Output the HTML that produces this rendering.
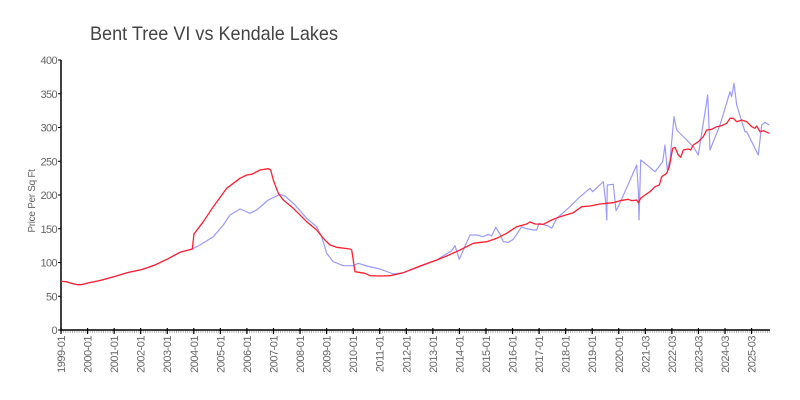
<!DOCTYPE html>
<html><head><meta charset="utf-8"><style>
html,body{margin:0;padding:0;background:#fff;}
svg{display:block;}
text{font-family:"Liberation Sans",sans-serif;}
</style></head><body>
<svg width="800" height="400" viewBox="0 0 800 400" xmlns="http://www.w3.org/2000/svg">
<defs>
<pattern id="mt" x="61" y="0" width="2.2133" height="10" patternUnits="userSpaceOnUse">
<rect x="0" y="0" width="0.8" height="10" fill="#aaa"/>
</pattern>
</defs>
<text x="90" y="40" font-size="19.5" fill="#444" textLength="248" lengthAdjust="spacingAndGlyphs">Bent Tree VI vs Kendale Lakes</text>
<rect x="61" y="330.5" width="709" height="2.5" fill="url(#mt)"/>
<line x1="61" y1="60" x2="61" y2="331" stroke="#000" stroke-width="1.5"/>
<line x1="60.5" y1="330" x2="770" y2="330" stroke="#000" stroke-width="1.5"/>
<g stroke="#000" stroke-width="1">
<line x1="58" y1="60" x2="61" y2="60"/><line x1="58" y1="93.75" x2="61" y2="93.75"/><line x1="58" y1="127.5" x2="61" y2="127.5"/><line x1="58" y1="161.25" x2="61" y2="161.25"/><line x1="58" y1="195" x2="61" y2="195"/><line x1="58" y1="228.75" x2="61" y2="228.75"/><line x1="58" y1="262.5" x2="61" y2="262.5"/><line x1="58" y1="296.25" x2="61" y2="296.25"/><line x1="58" y1="330" x2="61" y2="330"/>
</g>
<g font-size="11" fill="#666" text-anchor="end" letter-spacing="-0.6">
<text x="57" y="64">400</text><text x="57" y="97.75">350</text><text x="57" y="131.5">300</text><text x="57" y="165.25">250</text><text x="57" y="199">200</text><text x="57" y="232.75">150</text><text x="57" y="266.5">100</text><text x="57" y="300.25">50</text><text x="57" y="334">0</text>
</g>
<text transform="translate(35,201) rotate(-90)" font-size="10" fill="#666" text-anchor="middle" letter-spacing="-0.3">Price Per Sq Ft</text>
<polyline fill="none" stroke="#9a9aff" stroke-width="1.2" stroke-linejoin="round" points="61,281.4 66,281.6 72,283.5 78,284.8 82,284.5 88,283 100,280.5 114.7,276.5 128,272.5 135,271 141,269.8 148,267.5 155,265 167,259.3 180,252.3 192.3,249 200,245 213.3,236.7 223.3,225 230,215 240,209 245,211 250,213.3 256.7,210 268.3,200 280,194.3 285,196 295,205 306.7,218.3 316.7,226.7 321.7,236.7 326.7,253.3 333.3,261.7 343.3,265.7 353.3,265.7 358.3,263.3 366.7,266 380,269 393.3,274 403.3,272.7 420,266.7 436.7,260 448.3,252.7 451.7,250.7 455,245.7 459.3,259.3 463.3,250 470,235 476.7,235 483.3,236.7 488.3,234.3 491.7,236 495.7,227.3 500,234 503.3,241.7 508.3,242.3 513.3,239.3 521.7,226.7 525,228.3 533.3,230 536.7,230 539,223.3 548.3,226 551.7,228.3 556.7,218.3 570,206.7 578.3,198.3 590,188.3 592.7,191.7 603.3,181.7 606,205 606.7,220 607.3,185 613.3,184.3 616,210.7 618.3,206.7 636.7,165 638.3,190 639,220 640.7,160 645,163.3 655,171.7 662.7,161.7 665,145 667.3,170 670,160 674,116.7 676.7,130 686.7,140 693.3,146.7 698.3,155 707.7,95 710,150 720,125 730,91.7 731.7,96.7 734,83.3 736.7,105 745,131.7 746.7,131.7 758.3,155 761.7,125 765,122.3 769.3,125"/>
<polyline fill="none" stroke="#ff1f2f" stroke-width="1.3" stroke-linejoin="round" points="61,281.4 66,281.6 72,283.5 78,284.8 82,284.5 88,283 100,280.5 114.7,276.5 128,272.5 135,271 141,269.8 148,267.5 155,265 167,259.3 180,252.3 192.3,249 194,234 203.3,221.7 213.3,206.7 226.7,188.3 240,178.3 246.7,175 251.7,174.3 260,170 268.3,168.7 270.7,170 273.3,180 278.3,193.3 283.3,200 293.3,208.3 306.7,221.7 316.7,230 323.3,238.3 330,245 336.7,247.3 350,249 351.7,250 355,271.7 365,273.3 370,275.7 380,276 390,275.7 403.3,272.7 420,266 436.7,260 446.7,256 460,250 473.3,243.3 486.7,241.7 496.7,238.3 506.7,233.3 516.7,226.7 526.7,224 530,222 535,224 543.3,224.3 551.7,220 560,216.7 573.3,212.7 581.7,206.7 590,206 600,204 606.7,203.3 613.3,202.7 620,200.7 628.3,199.3 631.7,200.7 636.7,200 638.3,202.7 640.7,198.3 645,195 650,191.7 655,186.7 659.3,185 661.7,176.7 666.7,173.3 669.3,166.7 672.7,148.3 675,147.3 678.3,155 680.7,157.3 683.3,150 688.3,149 690.7,150 693.3,145 698.3,141.7 703.3,136.7 706.7,130 711.7,129.3 716.7,126.7 721.7,125.7 726.7,123.3 730,118.3 733.3,118.3 736.7,121.7 741.7,120 746.7,121.7 751.7,126.7 755,128.3 756.7,126 760,131.7 763.3,130.7 769.3,133.3"/>
<g stroke="#000" stroke-width="1.2">
<line x1="61" y1="328" x2="61" y2="334"/><line x1="87.56" y1="328" x2="87.56" y2="334"/><line x1="114.12" y1="328" x2="114.12" y2="334"/><line x1="140.68" y1="328" x2="140.68" y2="334"/><line x1="167.24" y1="328" x2="167.24" y2="334"/><line x1="193.8" y1="328" x2="193.8" y2="334"/><line x1="220.36" y1="328" x2="220.36" y2="334"/><line x1="246.92" y1="328" x2="246.92" y2="334"/><line x1="273.48" y1="328" x2="273.48" y2="334"/><line x1="300.04" y1="328" x2="300.04" y2="334"/><line x1="326.6" y1="328" x2="326.6" y2="334"/><line x1="353.16" y1="328" x2="353.16" y2="334"/><line x1="379.72" y1="328" x2="379.72" y2="334"/><line x1="406.28" y1="328" x2="406.28" y2="334"/><line x1="432.84" y1="328" x2="432.84" y2="334"/><line x1="459.4" y1="328" x2="459.4" y2="334"/><line x1="485.96" y1="328" x2="485.96" y2="334"/><line x1="512.52" y1="328" x2="512.52" y2="334"/><line x1="539.08" y1="328" x2="539.08" y2="334"/><line x1="565.64" y1="328" x2="565.64" y2="334"/><line x1="592.2" y1="328" x2="592.2" y2="334"/><line x1="618.76" y1="328" x2="618.76" y2="334"/><line x1="645.32" y1="328" x2="645.32" y2="334"/><line x1="671.88" y1="328" x2="671.88" y2="334"/><line x1="698.44" y1="328" x2="698.44" y2="334"/><line x1="725" y1="328" x2="725" y2="334"/><line x1="751.56" y1="328" x2="751.56" y2="334"/>
</g>
<g font-size="11" fill="#666" text-anchor="end" letter-spacing="-0.5">
<text transform="translate(65,336) rotate(-90)">1999-01</text>
<text transform="translate(91.56,336) rotate(-90)">2000-01</text>
<text transform="translate(118.12,336) rotate(-90)">2001-01</text>
<text transform="translate(144.68,336) rotate(-90)">2002-01</text>
<text transform="translate(171.24,336) rotate(-90)">2003-01</text>
<text transform="translate(197.8,336) rotate(-90)">2004-01</text>
<text transform="translate(224.36,336) rotate(-90)">2005-01</text>
<text transform="translate(250.92,336) rotate(-90)">2006-01</text>
<text transform="translate(277.48,336) rotate(-90)">2007-01</text>
<text transform="translate(304.04,336) rotate(-90)">2008-01</text>
<text transform="translate(330.6,336) rotate(-90)">2009-01</text>
<text transform="translate(357.16,336) rotate(-90)">2010-01</text>
<text transform="translate(383.72,336) rotate(-90)">2011-01</text>
<text transform="translate(410.28,336) rotate(-90)">2012-01</text>
<text transform="translate(436.84,336) rotate(-90)">2013-01</text>
<text transform="translate(463.4,336) rotate(-90)">2014-01</text>
<text transform="translate(489.96,336) rotate(-90)">2015-01</text>
<text transform="translate(516.52,336) rotate(-90)">2016-01</text>
<text transform="translate(543.08,336) rotate(-90)">2017-01</text>
<text transform="translate(569.64,336) rotate(-90)">2018-01</text>
<text transform="translate(596.2,336) rotate(-90)">2019-01</text>
<text transform="translate(622.76,336) rotate(-90)">2020-01</text>
<text transform="translate(649.32,336) rotate(-90)">2021-03</text>
<text transform="translate(675.88,336) rotate(-90)">2022-03</text>
<text transform="translate(702.44,336) rotate(-90)">2023-03</text>
<text transform="translate(729,336) rotate(-90)">2024-03</text>
<text transform="translate(755.56,336) rotate(-90)">2025-03</text>
</g>
</svg>
</body></html>
